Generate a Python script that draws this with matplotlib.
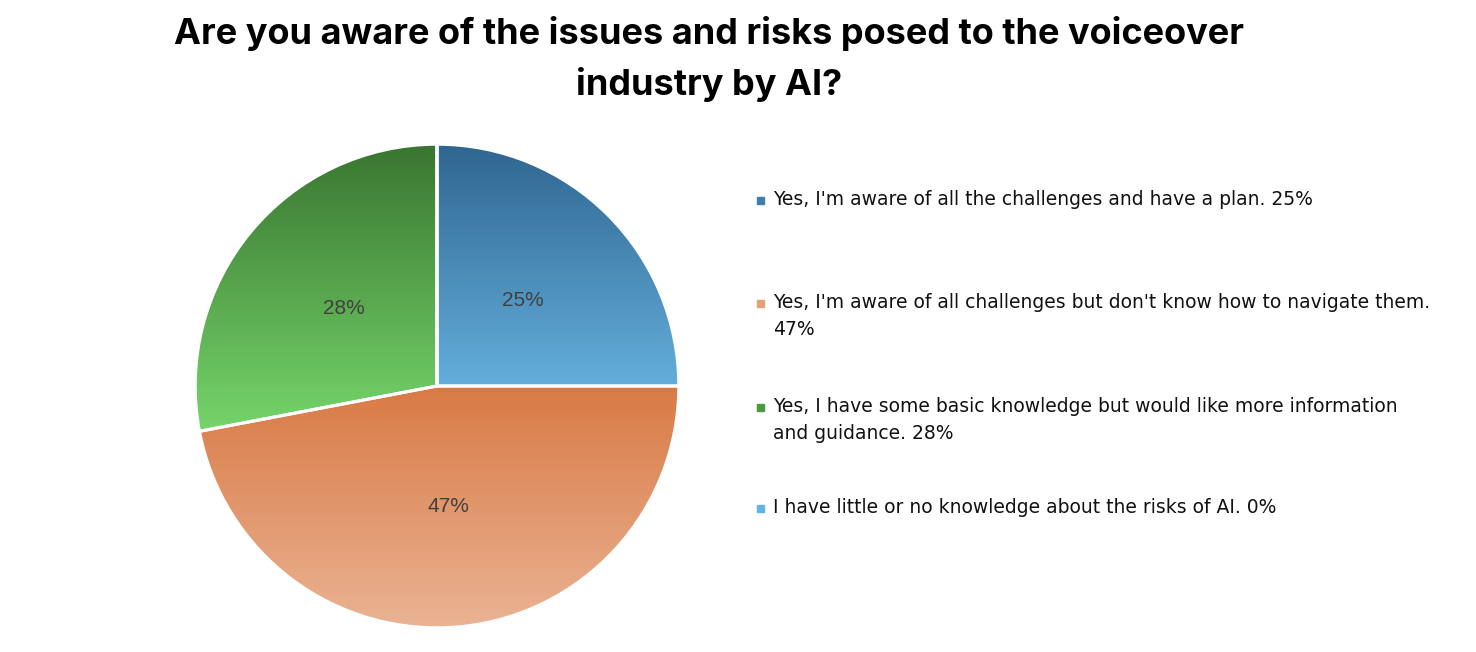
import matplotlib
matplotlib.use("Agg")
import matplotlib.pyplot as plt
import matplotlib.colors as mcolors
import numpy as np

title = "Are you aware of the issues and risks posed to the voiceover\nindustry by AI?"
labels = [
    "Yes, I'm aware of all the challenges and have a plan.",
    "Yes, I'm aware of all challenges but don't know how to navigate them.",
    "Yes, I have some basic knowledge but would like more information\nand guidance.",
    "I have little or no knowledge about the risks of AI.",
]
shares = [25, 47, 28, 0]
# gradient colours per slice: (top, bottom)
grad_colors = [
    ("#2f6690", "#64aedc"),
    ("#d97a45", "#eab393"),
    ("#397530", "#76d56b"),
    ("#4a9fd0", "#78c3ea"),
]
legend_colors = ["#3f7fae", "#e5a07a", "#4a9a3e", "#5fb4e4"]

W, H = 1476, 652
fig = plt.figure(figsize=(W / 100, H / 100), dpi=100)
fig.patch.set_facecolor("white")

# pie axes, square, centred on (437, 386) px with radius ~242
cx, cy, r = 437, 386, 243
ax = fig.add_axes([(cx - r) / W, (H - cy - r) / H, 2 * r / W, 2 * r / H])
ax.set_aspect("equal")
ax.axis("off")

wedges, texts, autotexts = ax.pie(
    shares, startangle=90, counterclock=False, radius=1,
    autopct=lambda p: f"{p:.0f}%" if p > 0 else "", pctdistance=0.5,
    wedgeprops=dict(edgecolor="white", linewidth=2.2),
    textprops=dict(color="#404040", fontsize=15, family="Liberation Sans"),
)

# vertical gradient fill, clipped to each wedge
for w, (top, bottom) in zip(wedges, grad_colors):
    ext = w.get_path().get_extents()
    if ext.height <= 0 or ext.width <= 0:
        continue
    cmap = mcolors.LinearSegmentedColormap.from_list("g", [bottom, top])
    grad = np.linspace(0, 1, 256).reshape(-1, 1)
    im = ax.imshow(grad, cmap=cmap, origin="lower", aspect="auto",
                   extent=[ext.x0, ext.x1, ext.y0, ext.y1], zorder=0.5)
    im.set_clip_path(w)
    w.set_facecolor("none")
    w.set_zorder(1)
for t in autotexts:
    t.set_zorder(3)
ax.set_xlim(-1.005, 1.005)
ax.set_ylim(-1.005, 1.005)

fig.text(709 / W, 1 - 59 / H, title, ha="center", va="center",
         fontsize=26, fontweight="bold", family="Inter", linespacing=1.55)

# legend
leg_y = [200, 303, 407, 508]
for lab, val, col, y in zip(labels, shares, legend_colors, leg_y):
    fig.patches.append(plt.Rectangle((757 / W, 1 - (y + 4) / H), 7 / W, 7 / H,
                                     transform=fig.transFigure, color=col))
    txt = f"{lab} {val}%"
    if "navigate" in lab:
        txt = f"{lab}\n{val}%"
    fig.text(773 / W, 1 - (y - 10) / H, txt, ha="left", va="top",
             fontsize=13.5, family="DejaVu Sans",
             color="#111111", linespacing=1.55)

fig.savefig("out.png", dpi=100)
